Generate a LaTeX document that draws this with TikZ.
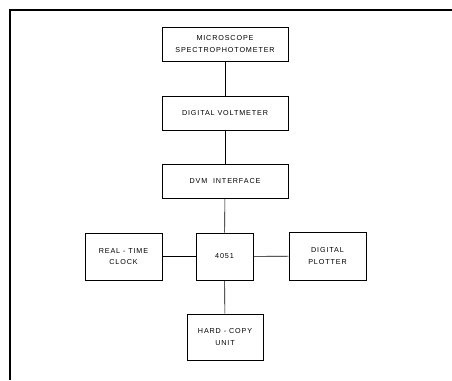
\documentclass[tikz,border=0pt]{standalone}
\usepackage{fontspec}
\setsansfont[LetterSpace=12]{Liberation Sans}
\usepackage{tikz}

\begin{document}
\begin{tikzpicture}[x = 1pt, y = -1pt, line width = 0.6pt,
                    block/.style = {rectangle, draw, inner sep = 0pt, align = center,
                                    font = \sffamily\fontsize{7.2}{11.5}\selectfont}]
  \useasboundingbox (0,0) rectangle (452,380);
  \draw [line width = 1.2pt] (10,380) -- (10,10) -- (452,10);

  \node [block, minimum width = 126pt, minimum height = 34pt] (MSP) at (225,44) {MICROSCOPE\\SPECTROPHOTOMETER};
  \node [block, minimum width = 126pt, minimum height = 34pt] (DVM) at (225,113) {DIGITAL VOLTMETER};
  \node [block, minimum width = 126pt, minimum height = 34pt] (DVI) at (225,181) {DVM\ \ INTERFACE};
  \node [block, minimum width = 57pt, minimum height = 47pt] (CPU) at (224.5,256.5) {4051};
  \node [block, minimum width = 77pt, minimum height = 47pt] (RTC) at (123.5,256.5) {REAL - TIME\\CLOCK};
  \node [block, minimum width = 77pt, minimum height = 48pt] (PLT) at (327.5,256) {DIGITAL\\PLOTTER};
  \node [block, minimum width = 76pt, minimum height = 46pt] (HCU) at (225,337) {HARD - COPY\\UNIT};

  \draw (MSP) -- (DVM);
  \draw (DVM) -- (DVI);
  \draw (DVI) -- (CPU);
  \draw (RTC) -- (CPU);
  \draw (CPU) -- (PLT);
  \draw (CPU) -- (HCU);
\end{tikzpicture}
\end{document}
